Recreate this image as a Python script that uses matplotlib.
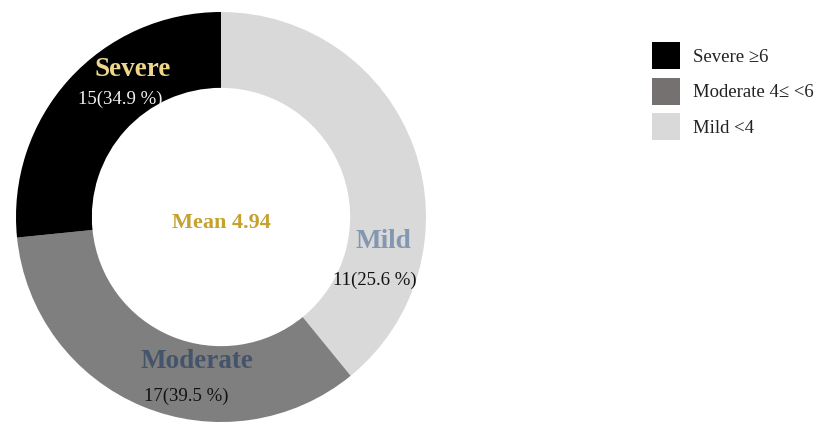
import matplotlib
matplotlib.use("Agg")
import matplotlib.pyplot as plt
from matplotlib.patches import Patch

# Data (slice sizes as drawn, clockwise from top)
categories = ["Mild", "Moderate", "Severe"]
slice_values = [39.1, 34.3, 26.6]
counts = [11, 17, 15]
percents = [25.6, 39.5, 34.9]
mean_value = 4.94
legend_labels = ["Severe \u22656", "Moderate 4\u2264 <6", "Mild <4"]

colors = ["#d9d9d9", "#7f7f7f", "#000000"]
legend_colors = ["#000000", "#767171", "#d9d9d9"]

plt.rcParams['font.family'] = ['Liberation Serif', 'DejaVu Serif']

W, H = 816, 429
fig = plt.figure(figsize=(W / 100, H / 100), dpi=100)
cx, cy, R = 221, 217, 205
ax = fig.add_axes([(cx - R) / W, (H - cy - R) / H, 2 * R / W, 2 * R / H])
ax.pie(slice_values, colors=colors, startangle=90, counterclock=False,
       radius=1.0, wedgeprops=dict(width=0.37, linewidth=0))
ax.set_xlim(-1, 1)
ax.set_ylim(-1, 1)
ax.set_aspect('equal')
ax.axis('off')

def d(px, py):
    return ((px - cx) / R, (cy - py) / R)

lab_fs = 19.5
num_fs = 13.5
ax.text(*d(133, 69), "Severe", ha='center', va='center', fontsize=lab_fs,
        fontweight='bold', color="#eed68d")
ax.text(*d(120, 99), f"{counts[2]}({percents[2]} %)", ha='center', va='center',
        fontsize=num_fs, color="#f2f2f2")
ax.text(*d(221, 223), f"Mean {mean_value}", ha='center', va='center', fontsize=16,
        fontweight='bold', color="#c5a22f")
ax.text(*d(383, 241), "Mild", ha='center', va='center', fontsize=lab_fs,
        fontweight='bold', color="#8497b0")
ax.text(*d(375, 280), f"{counts[0]}({percents[0]} %)", ha='center', va='center',
        fontsize=num_fs, color="#111111")
ax.text(*d(197, 361), "Moderate", ha='center', va='center', fontsize=lab_fs,
        fontweight='bold', color="#44546a")
ax.text(*d(186, 396), f"{counts[1]}({percents[1]} %)", ha='center', va='center',
        fontsize=num_fs, color="#111111")

handles = [Patch(facecolor=c, edgecolor='none') for c in legend_colors]
leg_fs = 13.5
fig.legend(handles, legend_labels, loc='upper left',
           bbox_to_anchor=(652 / W, 1 - 42 / H), frameon=False,
           fontsize=leg_fs, handlelength=1.5, handleheight=1.85,
           handletextpad=0.7, labelspacing=0.45, borderpad=0, borderaxespad=0,
           labelcolor="#222222")

fig.savefig("out.png", dpi=100, facecolor='white')
